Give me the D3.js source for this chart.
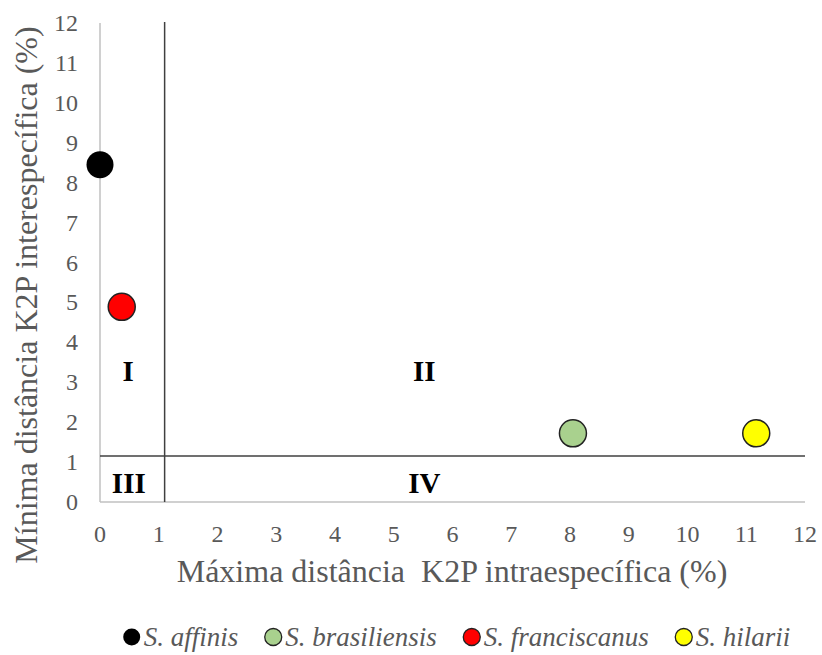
<!DOCTYPE html>
<html>
<head>
<meta charset="utf-8">
<script src="https://cdnjs.cloudflare.com/ajax/libs/d3/7.8.5/d3.min.js"></script>
<style>
body { margin: 0; background: #fff; }
text { font-family: "Liberation Serif", "Times New Roman", serif; white-space: pre; }
</style>
</head>
<body>
<div id="chart"></div>
<script>
// species data: max intra (x), min inter (y)
var species = ["S. affinis", "S. brasiliensis", "S. franciscanus", "S. hilarii"];
var maxIntra = [0, 8.05, 0.37, 11.17];
var minInter = [8.45, 1.72, 4.89, 1.72];
var colors = ["#000000", "#a9d18e", "#ff0000", "#ffff00"];

var ticks = [0, 1, 2, 3, 4, 5, 6, 7, 8, 9, 10, 11, 12];
var cutX = 1.1, cutY = 1.15;
var quadrants = [
  {label: "I", x: 0.48, y: 3.27},
  {label: "II", x: 5.52, y: 3.27},
  {label: "III", x: 0.49, y: 0.47},
  {label: "IV", x: 5.52, y: 0.47}
];

var W = 822, H = 655;
var svg = d3.select("#chart").append("svg").attr("width", W).attr("height", H);

var x = d3.scaleLinear().domain([0, 12]).range([100, 805]);
var y = d3.scaleLinear().domain([0, 12]).range([502, 23]);

// axes lines
svg.append("line").attr("x1", x(0)).attr("x2", x(12)).attr("y1", y(0)).attr("y2", y(0))
  .attr("stroke", "#c0c0c0").attr("stroke-width", 1.5);
svg.append("line").attr("x1", x(0)).attr("x2", x(0)).attr("y1", y(0)).attr("y2", y(12))
  .attr("stroke", "#c0c0c0").attr("stroke-width", 1.5);

// tick labels
svg.selectAll(".xt").data(ticks).enter().append("text")
  .attr("x", function(d) { return x(d); }).attr("y", 542)
  .attr("text-anchor", "middle").attr("font-size", 24).attr("fill", "#595959")
  .text(function(d) { return d; });
svg.selectAll(".yt").data(ticks).enter().append("text")
  .attr("x", 78).attr("y", function(d) { return y(d) + 8; })
  .attr("text-anchor", "end").attr("font-size", 24).attr("fill", "#595959")
  .text(function(d) { return d; });

// quadrant dividing lines
svg.append("line").attr("x1", x(cutX)).attr("x2", x(cutX)).attr("y1", y(0)).attr("y2", y(12) - 1)
  .attr("stroke", "#404040").attr("stroke-width", 1.5);
svg.append("line").attr("x1", x(0)).attr("x2", x(12)).attr("y1", y(cutY)).attr("y2", y(cutY))
  .attr("stroke", "#404040").attr("stroke-width", 1.5);

svg.selectAll(".q").data(quadrants).enter().append("text")
  .attr("x", function(d) { return x(d.x); }).attr("y", function(d) { return y(d.y) + 10; })
  .attr("text-anchor", "middle").attr("font-size", 29).attr("font-weight", "bold")
  .attr("fill", "#000").text(function(d) { return d.label; });

// points
svg.selectAll(".pt").data(species).enter().append("circle")
  .attr("cx", function(d, i) { return x(maxIntra[i]); })
  .attr("cy", function(d, i) { return y(minInter[i]); })
  .attr("r", 13.5)
  .attr("fill", function(d, i) { return colors[i]; })
  .attr("stroke", function(d, i) { return i === 0 ? "none" : "#222"; })
  .attr("stroke-width", 1.5);

// axis titles
svg.append("text").attr("x", 452).attr("y", 582).attr("text-anchor", "middle")
  .attr("font-size", 32).attr("fill", "#595959").text("Máxima distância  K2P intraespecífica (%)");
svg.append("text").attr("transform", "translate(37,295) rotate(-90)").attr("text-anchor", "middle")
  .attr("font-size", 32).attr("fill", "#595959").text("Mínima distância K2P interespecífica (%)");

// legend, laid out from text widths
var leg = svg.append("g").attr("transform", "translate(0,637)");
var items = leg.selectAll(".leg").data(species).enter().append("g");
items.append("circle").attr("r", 8.5)
  .attr("fill", function(d, i) { return colors[i]; })
  .attr("stroke", function(d, i) { return i === 0 ? "none" : "#222"; })
  .attr("stroke-width", 1.3);
items.append("text").attr("x", 12).attr("y", 9).attr("font-size", 27).attr("font-style", "italic")
  .attr("fill", "#595959").text(function(d) { return d; });
var cx = 0, pos = [];
items.each(function(d) {
  var w = d3.select(this).select("text").node().getComputedTextLength();
  pos.push(cx + 8.5);
  cx += 8.5 * 2 + 4 + w + 26;
});
var total = cx - 26, start = 457 - total / 2;
items.attr("transform", function(d, i) { return "translate(" + (start + pos[i]) + ",0)"; });
</script>
</body>
</html>
